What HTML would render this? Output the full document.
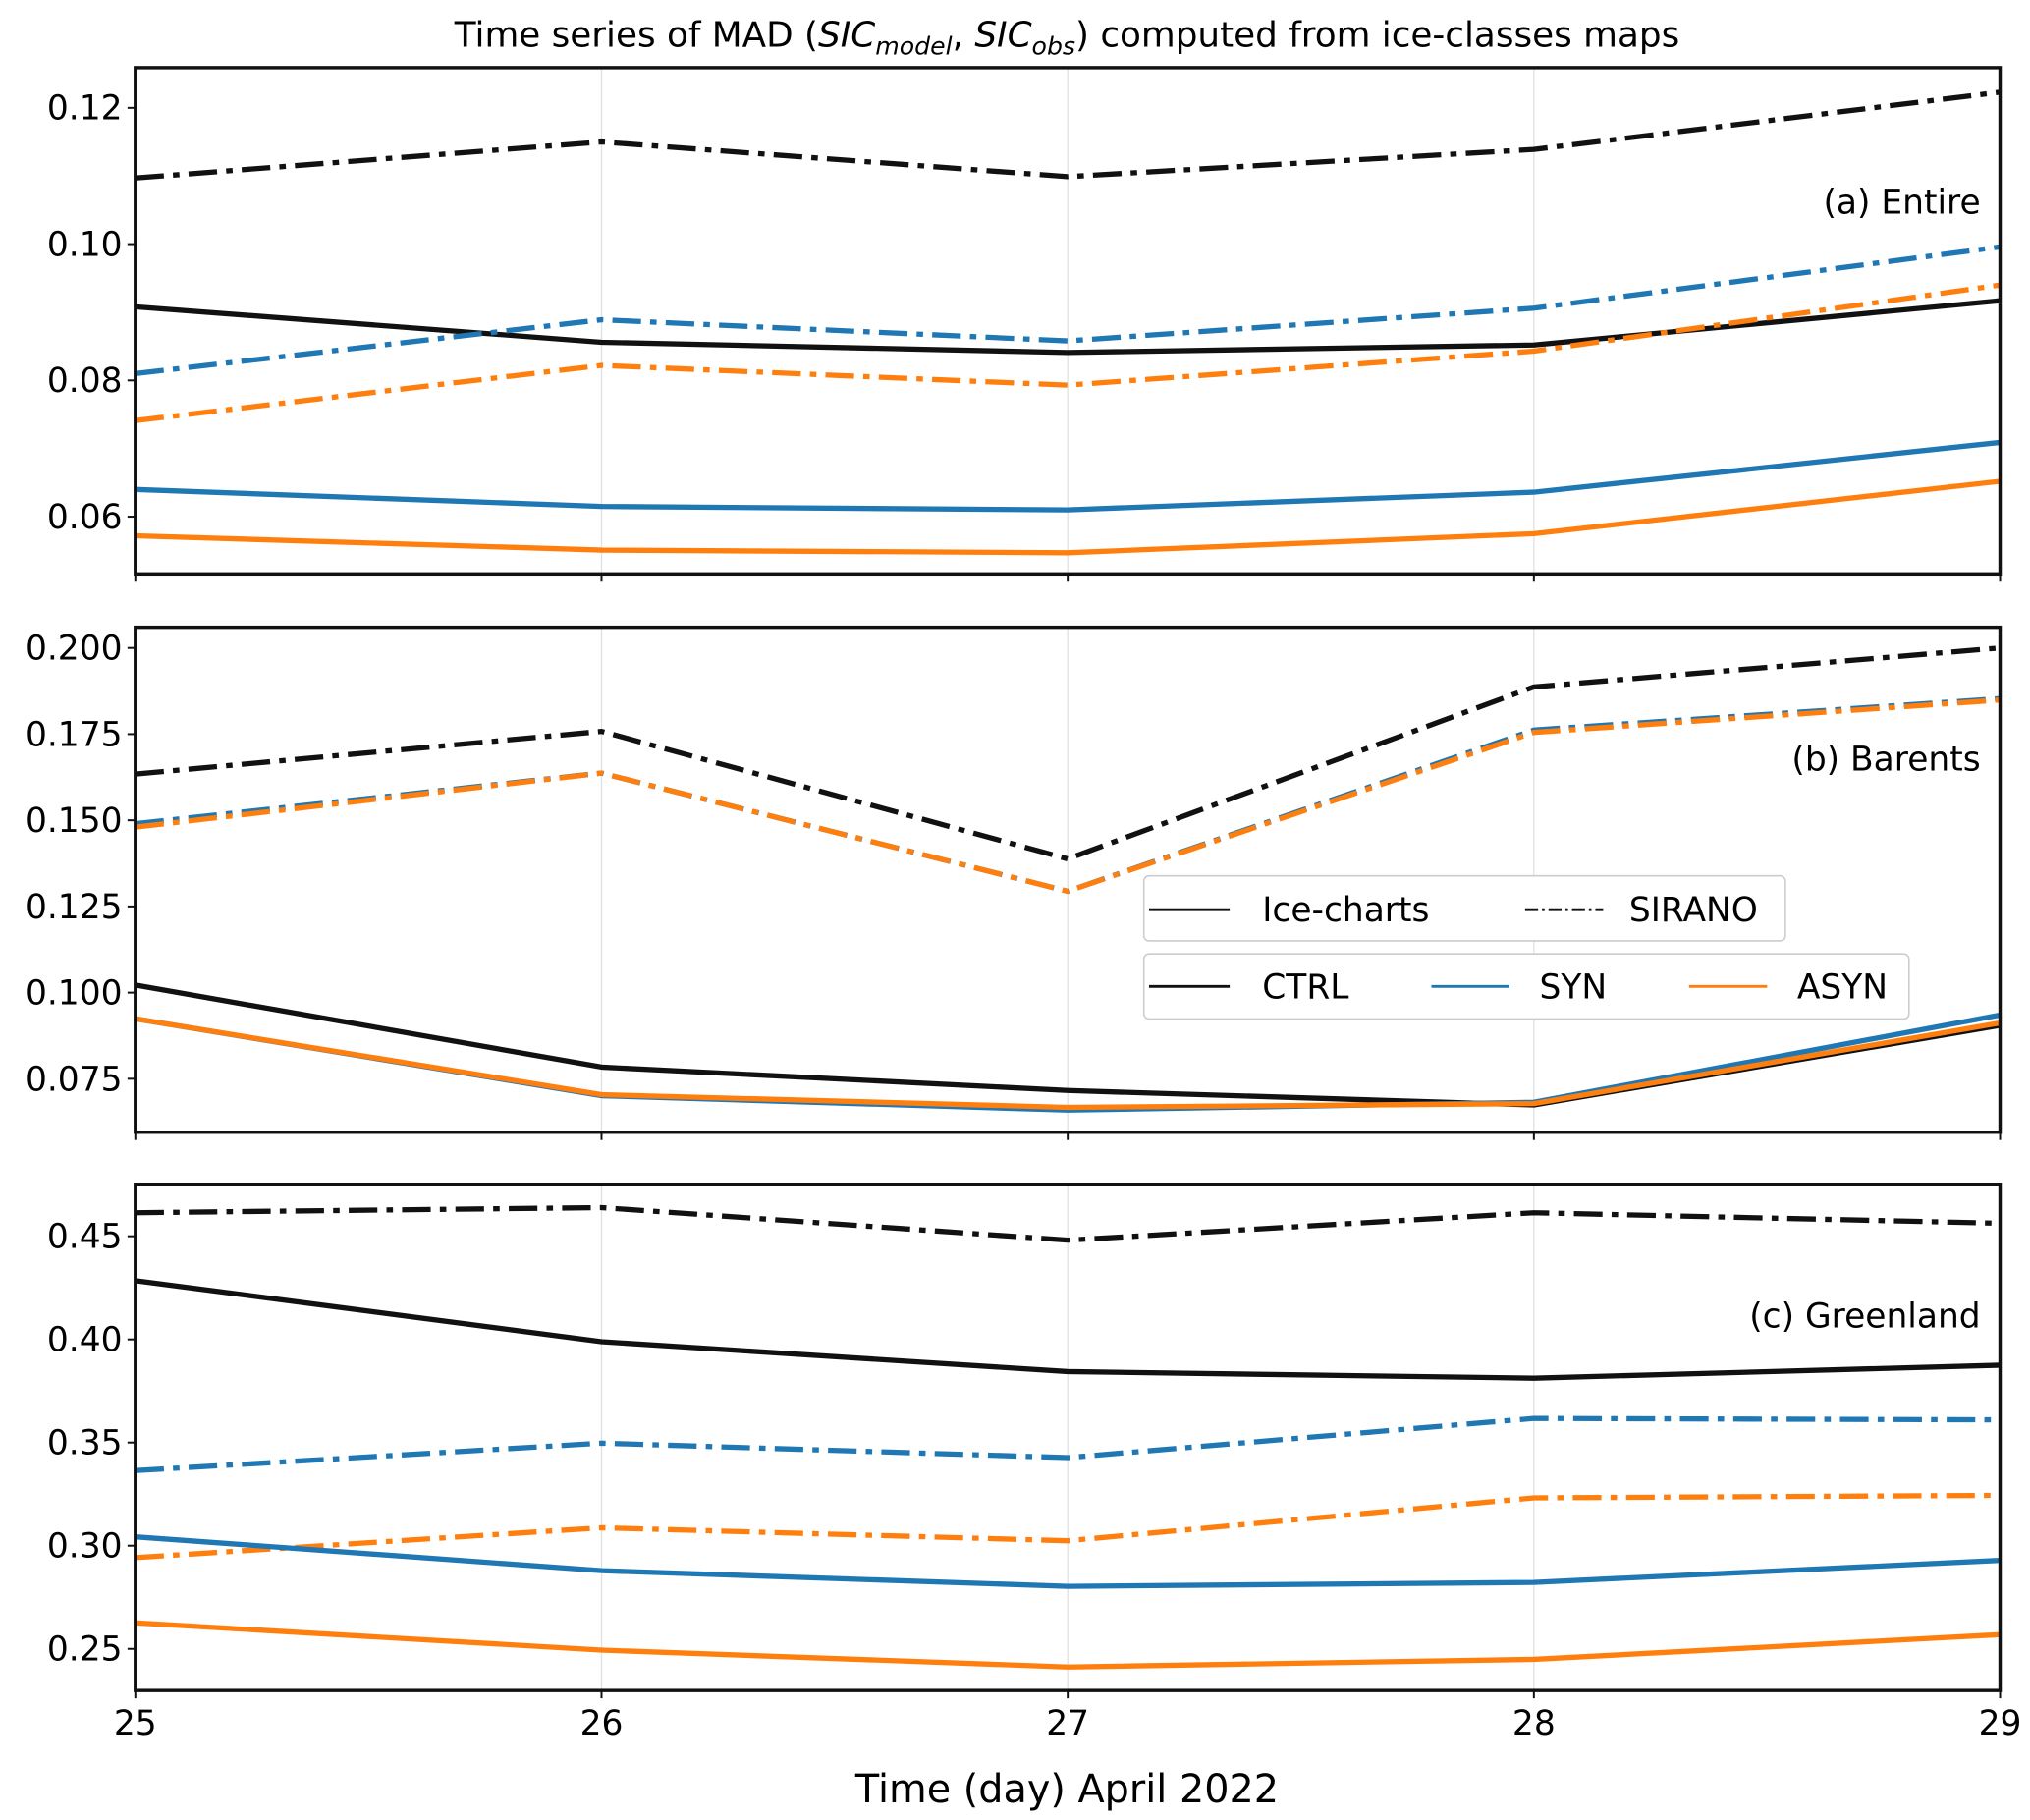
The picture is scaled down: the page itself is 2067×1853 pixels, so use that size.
<!DOCTYPE html>
<html><head><meta charset="utf-8"><style>
html,body{margin:0;padding:0;background:#fff}
svg{display:block;font-family:"DejaVu Sans","Liberation Sans",sans-serif}
</style></head><body>
<svg id="chart" xmlns="http://www.w3.org/2000/svg" width="2067" height="1853" viewBox="0 0 1560 1398.5" preserveAspectRatio="none">
<rect width="1560" height="1398.5" fill="#fff"/>
<text x="820" y="36" font-size="27" text-anchor="middle">Time series of MAD (<tspan font-style="italic">SIC</tspan><tspan font-style="italic" font-size="19" dy="6">model</tspan><tspan dy="-6">,  </tspan><tspan font-style="italic">SIC</tspan><tspan font-style="italic" font-size="19" dy="6">obs</tspan><tspan dy="-6">) computed from ice-classes maps</tspan></text>
<g id="panels"></g>
<text x="820" y="1385" font-size="30" text-anchor="middle">Time (day) April 2022</text>
<g id="legend">
  <rect x="879" y="673" width="493" height="50" rx="4" fill="#fff" stroke="#ccc" stroke-width="1.2"/>
  <line x1="883" y1="699" x2="945" y2="699" stroke="#111" stroke-width="2.2"/>
  <text x="970" y="708" font-size="26">Ice-charts</text>
  <line x1="1172" y1="699" x2="1232" y2="699" stroke="#111" stroke-width="2.2" stroke-dasharray="10,3,2,3"/>
  <text x="1252" y="708" font-size="26">SIRANO</text>
  <rect x="879" y="733" width="588" height="50" rx="4" fill="#fff" stroke="#ccc" stroke-width="1.2"/>
  <line x1="883" y1="758" x2="945" y2="758" stroke="#111" stroke-width="2.2"/>
  <text x="970" y="767" font-size="26">CTRL</text>
  <line x1="1100" y1="758" x2="1160" y2="758" stroke="#1f77b4" stroke-width="2.2"/>
  <text x="1183" y="767" font-size="26">SYN</text>
  <line x1="1298" y1="758" x2="1358" y2="758" stroke="#ff7f0e" stroke-width="2.2"/>
  <text x="1381" y="767" font-size="26">ASYN</text>
</g>
</svg>
<script>
const days = [25, 26, 27, 28, 29];
const aTicks = [0.06, 0.08, 0.10, 0.12];
const aTickLabels = ["0.06", "0.08", "0.10", "0.12"];
const aCtrlSirano = [0.1097, 0.1150, 0.1099, 0.1139, 0.1223];
const aCtrlIce = [0.0908, 0.0856, 0.0841, 0.0852, 0.0917];
const aSynSirano = [0.0810, 0.0889, 0.0858, 0.0906, 0.0996];
const aAsynSirano = [0.0741, 0.0822, 0.0793, 0.0843, 0.0940];
const aSynIce = [0.0640, 0.0615, 0.0610, 0.0636, 0.0709];
const aAsynIce = [0.0572, 0.0551, 0.0547, 0.0575, 0.0652];
const bTicks = [0.075, 0.100, 0.125, 0.150, 0.175, 0.200];
const bTickLabels = ["0.075", "0.100", "0.125", "0.150", "0.175", "0.200"];
const bCtrlSirano = [0.1634, 0.1758, 0.1388, 0.1887, 0.2000];
const bSynSirano = [0.1490, 0.1637, 0.1294, 0.1762, 0.1853];
const bAsynSirano = [0.1480, 0.1637, 0.1294, 0.1755, 0.1849];
const bCtrlIce = [0.1022, 0.0784, 0.0716, 0.0674, 0.0905];
const bSynIce = [0.0924, 0.0701, 0.0659, 0.0682, 0.0935];
const bAsynIce = [0.0924, 0.0704, 0.0667, 0.0678, 0.0912];
const cTicks = [0.25, 0.30, 0.35, 0.40, 0.45];
const cTickLabels = ["0.25", "0.30", "0.35", "0.40", "0.45"];
const cCtrlSirano = [0.4614, 0.4639, 0.4481, 0.4614, 0.4563];
const cCtrlIce = [0.4285, 0.3989, 0.3844, 0.3812, 0.3875];
const cSynSirano = [0.3364, 0.3497, 0.3427, 0.3617, 0.3610];
const cAsynSirano = [0.2942, 0.3087, 0.3024, 0.3232, 0.3244];
const cSynIce = [0.3043, 0.2879, 0.2803, 0.2822, 0.2929];
const cAsynIce = [0.2626, 0.2494, 0.2412, 0.2449, 0.2569];

const NS = "http://www.w3.org/2000/svg";
const root = document.getElementById('panels');
const X0 = 104, X1 = 1537;
function xs(d){ return X0 + (d - 25) / 4 * (X1 - X0); }
function mk(tag, attrs, parent){ const e = document.createElementNS(NS, tag); for (const k in attrs) e.setAttribute(k, attrs[k]); parent.appendChild(e); return e; }

const panels = [
  {id:'a', top:52, bot:441, ymin:0.0516, ymax:0.1259, ticks:aTicks, labels:aTickLabels, label:'(a) Entire', ly:164,
   series:[['ctrl-sirano',aCtrlSirano,'#111',1],['ctrl-ice',aCtrlIce,'#111',0],['syn-sirano',aSynSirano,'#1f77b4',1],['asyn-sirano',aAsynSirano,'#ff7f0e',1],['syn-ice',aSynIce,'#1f77b4',0],['asyn-ice',aAsynIce,'#ff7f0e',0]]},
  {id:'b', top:482, bot:870, ymin:0.0595, ymax:0.206, ticks:bTicks, labels:bTickLabels, label:'(b) Barents', ly:592,
   series:[['ctrl-sirano',bCtrlSirano,'#111',1],['syn-sirano',bSynSirano,'#1f77b4',1],['asyn-sirano',bAsynSirano,'#ff7f0e',1],['ctrl-ice',bCtrlIce,'#111',0],['syn-ice',bSynIce,'#1f77b4',0],['asyn-ice',bAsynIce,'#ff7f0e',0]]},
  {id:'c', top:910, bot:1299, ymin:0.2298, ymax:0.4752, ticks:cTicks, labels:cTickLabels, label:'(c) Greenland', ly:1020, xlabels:true,
   series:[['ctrl-sirano',cCtrlSirano,'#111',1],['ctrl-ice',cCtrlIce,'#111',0],['syn-sirano',cSynSirano,'#1f77b4',1],['asyn-sirano',cAsynSirano,'#ff7f0e',1],['syn-ice',cSynIce,'#1f77b4',0],['asyn-ice',cAsynIce,'#ff7f0e',0]]}
];

panels.forEach(p => {
  const g = mk('g', {}, root);
  
  
  const ys = v => p.bot - (v - p.ymin) / (p.ymax - p.ymin) * (p.bot - p.top);
  days.forEach(d => {
    const gl = mk('line', {x1:xs(d), x2:xs(d), y1:p.top, y2:p.bot, stroke:'#e0e0e0', 'stroke-width':1}, g);
    
    
    const tk = mk('line', {x1:xs(d), x2:xs(d), y1:p.bot, y2:p.bot + 6, stroke:'#111', 'stroke-width':1.5}, g);
    
    
    if (p.xlabels) {
      const t = mk('text', {x:xs(d), y:p.bot + 34, 'font-size':26, 'text-anchor':'middle'}, g);
      t.textContent = String(d);
      
      
    }
  });
  p.ticks.forEach((v, i) => {
    const tk = mk('line', {x1:X0 - 6, x2:X0, y1:ys(v), y2:ys(v), stroke:'#111', 'stroke-width':1.5}, g);
    
    
    const t = mk('text', {x:X0 - 10, y:ys(v) + 9, 'font-size':26, 'text-anchor':'end'}, g);
    t.textContent = p.labels[i];
    
    
  });
  p.series.forEach(s => {
    const pts = s[1].map((v, i) => xs(days[i]) + ',' + ys(v)).join(' ');
    const attrs = {points:pts, fill:'none', stroke:s[2], 'stroke-width':4, 'stroke-linejoin':'round'};
    if (s[3]) attrs['stroke-dasharray'] = '22,7,5,7';
    const pl = mk('polyline', attrs, g);
    
    
  });
  const fr = mk('rect', {x:X0, y:p.top, width:X1 - X0, height:p.bot - p.top, fill:'none', stroke:'#111', 'stroke-width':2.6}, g);
  
  
  const lb = mk('text', {x:1522, y:p.ly, 'font-size':26, 'text-anchor':'end'}, g);
  lb.textContent = p.label;
  
  
});
document.getElementById('chart').appendChild(document.getElementById('legend'));
</script>
</body></html>
